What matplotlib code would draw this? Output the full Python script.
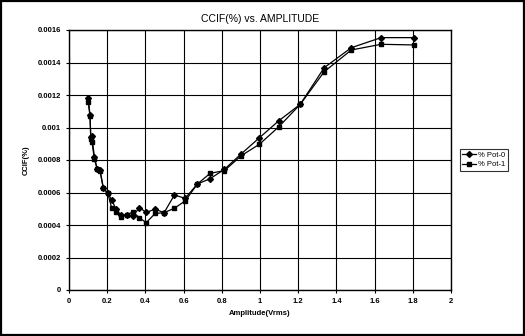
import numpy as np
import matplotlib
matplotlib.use('Agg')
from matplotlib import pyplot as plt

plt.rcParams['font.family'] = ['Liberation Sans', 'DejaVu Sans']

# amplitude (Vrms), shared by both series
amp = [0.100, 0.110, 0.114, 0.120, 0.133, 0.148, 0.162, 0.180, 0.203,
       0.224, 0.245, 0.271, 0.302, 0.334, 0.369, 0.404, 0.451, 0.498,
       0.552, 0.608, 0.672, 0.739, 0.814, 0.901, 0.997, 1.099, 1.211,
       1.336, 1.478, 1.634, 1.805]

pot0 = [0.00118, 0.00108, 0.00094, 0.000945, 0.000817, 0.000743, 0.000738,
        0.000626, 0.000595, 0.000554, 0.00050, 0.000462, 0.000462, 0.000455,
        0.000507, 0.000478, 0.000497, 0.000476, 0.000585, 0.000564, 0.000652,
        0.000685, 0.000743, 0.000837, 0.000937, 0.001042, 0.001143, 0.001368,
        0.001491, 0.001553, 0.001553]

pot1 = [0.00116, 0.00107, 0.00093, 0.000913, 0.000805, 0.000743, 0.000735,
        0.000626, 0.000595, 0.000503, 0.00048, 0.00045, 0.000462, 0.00048,
        0.000445, 0.000414, 0.000471, 0.000476, 0.000503, 0.000548, 0.000652,
        0.000718, 0.000735, 0.000826, 0.000897, 0.001005, 0.001143, 0.001343,
        0.001477, 0.001512, 0.001508]

fig = plt.figure(figsize=(5.25, 3.36), dpi=100)
ax = fig.add_axes([69/525, 1 - 290/336, (451 - 69)/525, (290 - 30)/336])

ax.plot(amp, pot0, color='black', lw=0.9, marker='D', ms=3, label='% Pot-0')
ax.plot(amp, pot1, color='black', lw=0.9, marker='s', ms=3.2, label='% Pot-1')

ax.set_xlim(0, 2)
ax.set_ylim(0, 0.0016)
ax.set_xticks(np.arange(0, 2.01, 0.2))
ax.set_xticklabels(['0', '0.2', '0.4', '0.6', '0.8', '1', '1.2', '1.4', '1.6', '1.8', '2'])
ax.set_yticks(np.arange(0, 0.00161, 0.0002))
ax.set_yticklabels(['0', '0.0002', '0.0004', '0.0006', '0.0008', '0.001',
                    '0.0012', '0.0014', '0.0016'])
ax.tick_params(labelsize=5.5, length=2, width=0.8, color='black')
for lab in ax.get_xticklabels() + ax.get_yticklabels():
    lab.set_fontweight('bold')

ax.grid(True, color='black', lw=0.8)
ax.set_axisbelow(True)
for s in ax.spines.values():
    s.set_linewidth(1.0)
    s.set_color('black')

ax.set_title('CCIF(%) vs. AMPLITUDE', fontsize=7.5, pad=6)
ax.set_xlabel('Amplitude(Vrms)', fontsize=5.5, fontweight='bold', labelpad=4)
ax.set_ylabel('CCIF(%)', fontsize=5.5, fontweight='bold', labelpad=6)

leg = fig.legend(loc='center left', bbox_to_anchor=(460/525, 1 - 160/336),
                 fontsize=5.5, frameon=True, fancybox=False, borderpad=0.3,
                 handlelength=1.8, handletextpad=0.3, labelspacing=0.3,
                 borderaxespad=0)
leg.get_frame().set_edgecolor('black')
leg.get_frame().set_linewidth(0.8)

# outer frame of the figure
fig.patches.append(plt.Rectangle((0.002, 0.003), 0.996, 0.994, transform=fig.transFigure,
                                 fill=False, edgecolor='black', lw=1.6))

fig.savefig('out.png', dpi=100)
